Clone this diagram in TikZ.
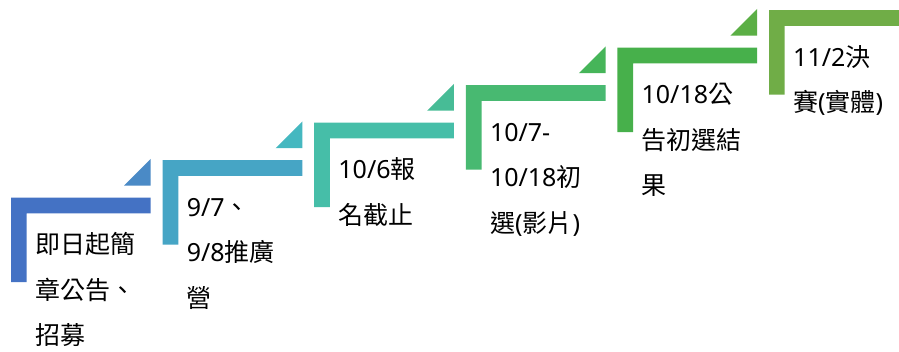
\documentclass[tikz,border=0pt]{standalone}
\usepackage{fontspec}
\setmainfont{Noto Sans CJK TC}
\newfontfamily\latf{Noto Sans}
\newcommand{\lt}[1]{{\latf #1}}
\definecolor{cA}{HTML}{4472C4}
\definecolor{tA}{HTML}{4A8AC6}
\definecolor{cB}{HTML}{46A5C5}
\definecolor{tB}{HTML}{45B8C0}
\definecolor{cC}{HTML}{46BEA8}
\definecolor{tC}{HTML}{47BC96}
\definecolor{cD}{HTML}{48B971}
\definecolor{tD}{HTML}{46B559}
\definecolor{cE}{HTML}{47B04B}
\definecolor{tE}{HTML}{5BAF45}
\definecolor{cF}{HTML}{70AD47}
\newcommand{\drawstair}[4]{%
  \fill[#3] (#1,#2) -- ++(139.7,0) -- ++(0,15.7) -- ++(-124,0) -- ++(0,68.8) -- ++(-15.7,0) -- cycle;
  \fill[#4] (#1+139.7,#2-38.7) -- ++(0,26.7) -- ++(-26.7,0) -- cycle;
}
\begin{document}
\begin{tikzpicture}[x=1pt,y=-1pt,
  lbl/.style={anchor=north west,inner sep=0pt,align=left,
    font=\fontsize{25}{45.5}\selectfont,text=black}]
\useasboundingbox (0,0) rectangle (899,352);
\fill[white] (0,0) rectangle (899,352);
\begin{scope}
\clip (0,0) rectangle (899,352);
\drawstair{11}{197.7}{cA}{tA}
\drawstair{162.6}{160.2}{cB}{tB}
\drawstair{314.2}{122.7}{cC}{tC}
\drawstair{465.8}{85.2}{cD}{tD}
\drawstair{617.4}{47.7}{cE}{tE}
\drawstair{769}{10.2}{cF}{white}
\end{scope}
\node[lbl] (s1) at (35,229.7) {\rule{0pt}{24pt}即日起簡\\章公告、\\招募};
\node[lbl] (s2) at (186.6,192.2) {\rule{0pt}{24pt}\lt{9/7}、\\\lt{9/8}推廣\\營};
\node[lbl] (s3) at (338.2,154.7) {\rule{0pt}{24pt}\lt{10/6}報\\名截止};
\node[lbl] (s4) at (489.8,117.2) {\rule{0pt}{24pt}\lt{10/7-}\\\lt{10/18}初\\選\lt{(}影片\lt{)}};
\node[lbl] (s5) at (641.4,79.7) {\rule{0pt}{24pt}\lt{10/18}公\\告初選結\\果};
\node[lbl] (s6) at (793,42.2) {\rule{0pt}{24pt}\lt{11/2}決\\賽\lt{(}實體\lt{)}};
\end{tikzpicture}
\end{document}
